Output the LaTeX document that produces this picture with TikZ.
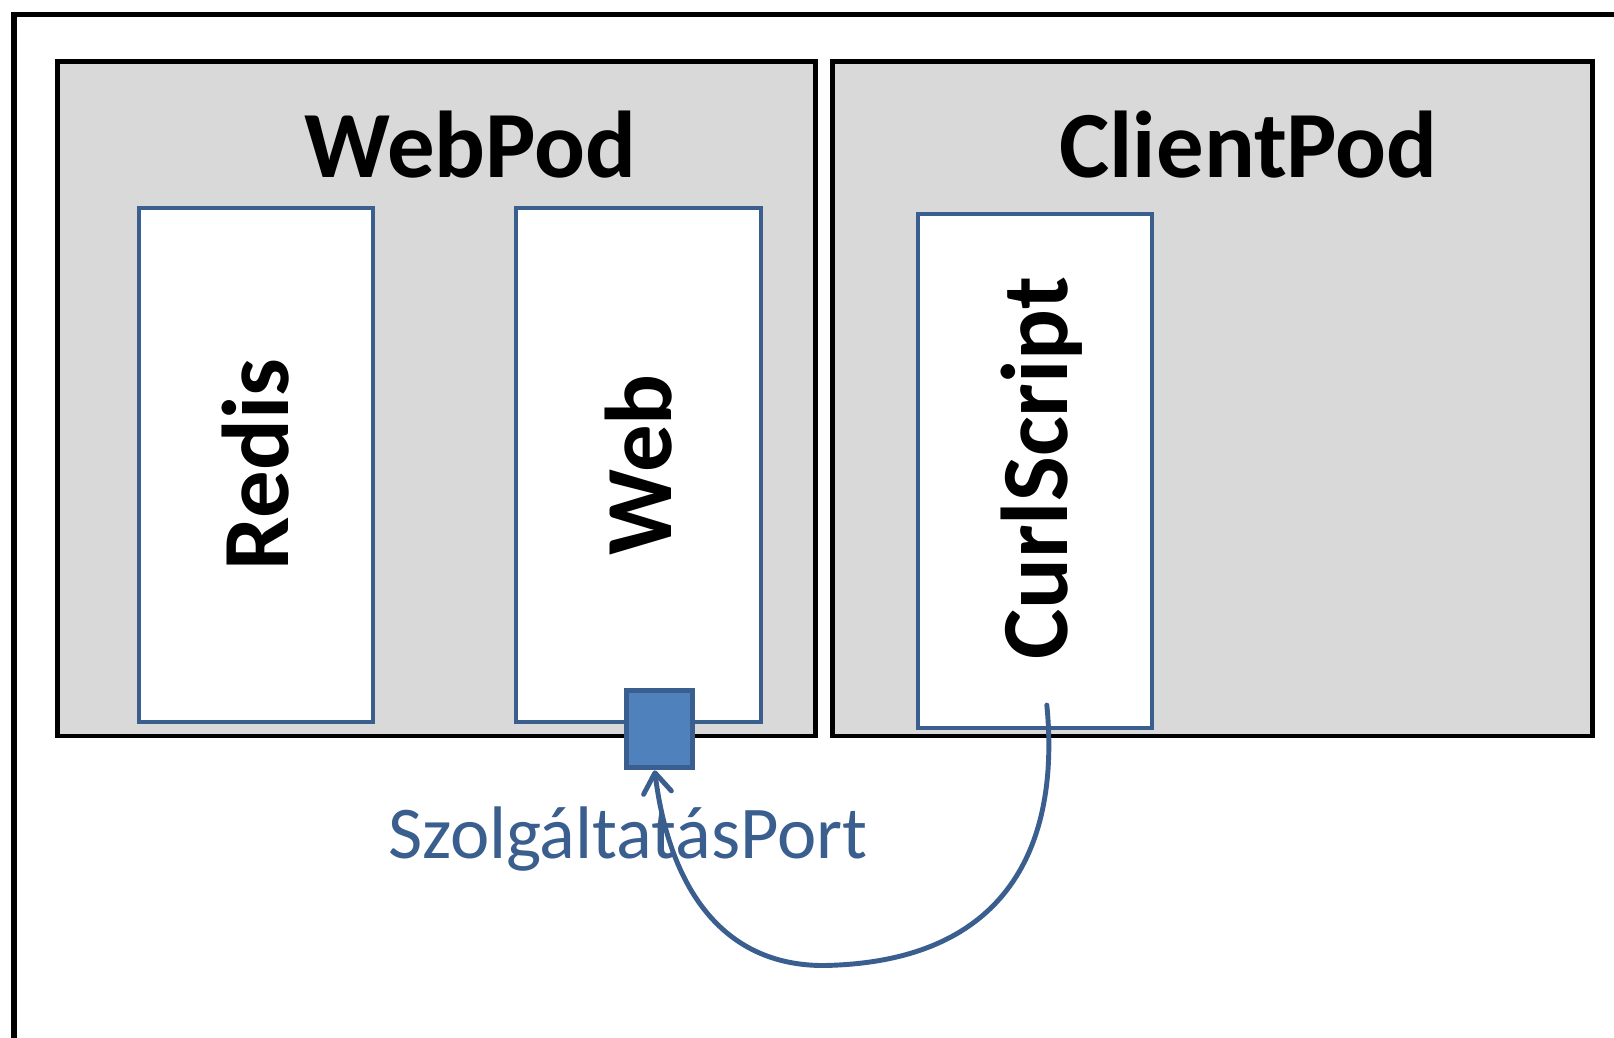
\documentclass[tikz,border=0pt]{standalone}
\usepackage{fontspec}
\setmainfont{Carlito}
\usetikzlibrary{arrows.meta}
\definecolor{podgray}{HTML}{D9D9D9}
\definecolor{boxblue}{HTML}{3A5F8F}
\definecolor{portblue}{HTML}{4F81BD}
\def\pxu{0.010293cm}
\begin{document}
\begin{tikzpicture}[x=\pxu,y=-\pxu,
    pod/.style={draw=black,line width=1.4pt,fill=podgray,inner sep=0pt},
    container/.style={draw=boxblue,line width=1.1pt,fill=white,inner sep=0pt,minimum width={227*\pxu},minimum height={499*\pxu}},
    podlabel/.style={font=\fontsize{27}{30}\selectfont\bfseries},
    boxlabel/.style={font=\fontsize{27}{30}\selectfont\bfseries,rotate=90}]
                            \useasboundingbox (0,0) rectangle (1568,1007.5);
                            \clip (0,0) rectangle (1568,1007.5);
                            \node [draw=black,line width=1.7pt,fill=white,inner sep=0pt,minimum width={1600*\pxu},minimum height={1020*\pxu},anchor=north west] (frame) at (10.7,11.2) {};

                            \node [pod,minimum width={736*\pxu},minimum height={655*\pxu}] (webpod) at (424,387.5) {};
                            \node [pod,minimum width={738*\pxu},minimum height={655*\pxu}] (clientpod) at (1178,387.5) {};
                            \node [podlabel] (webpodlabel) at (457,140) {WebPod};
                            \node [podlabel] (clientpodlabel) at (1213,140) {ClientPod};

                            \node [container] (redis) at (248.5,451.5) {};
                            \node [container,minimum width={238*\pxu}] (web) at (620,451.5) {};
                            \node [container] (curl) at (1005.5,457.5) {};
                            \node [boxlabel] at (redis) {Redis};
                            \node [boxlabel] at (web) {Web};
                            \node [boxlabel] at (1012,455) {CurlScript};

                            \node [draw=boxblue,line width=1.4pt,fill=portblue,inner sep=0pt,minimum width={64*\pxu},minimum height={75*\pxu}] (port) at (641,708.5) {};
                            \node [text=boxblue,font=\fontsize{21.2}{24}\selectfont] (portlabel) at (610,815) {SzolgáltatásPort};

                            \coordinate (curlend) at (1017,685);
                            \draw [boxblue,line width=1.4pt,line cap=round,-{Straight Barb[length=2mm,width=2.8mm,line cap=round,line join=round]}] (curlend) .. controls (1030,820) and (980,935) .. (800,938) .. controls (700,938) and (650,860) .. (port.south -| 636,0);
                        \end{tikzpicture}
\end{document}
